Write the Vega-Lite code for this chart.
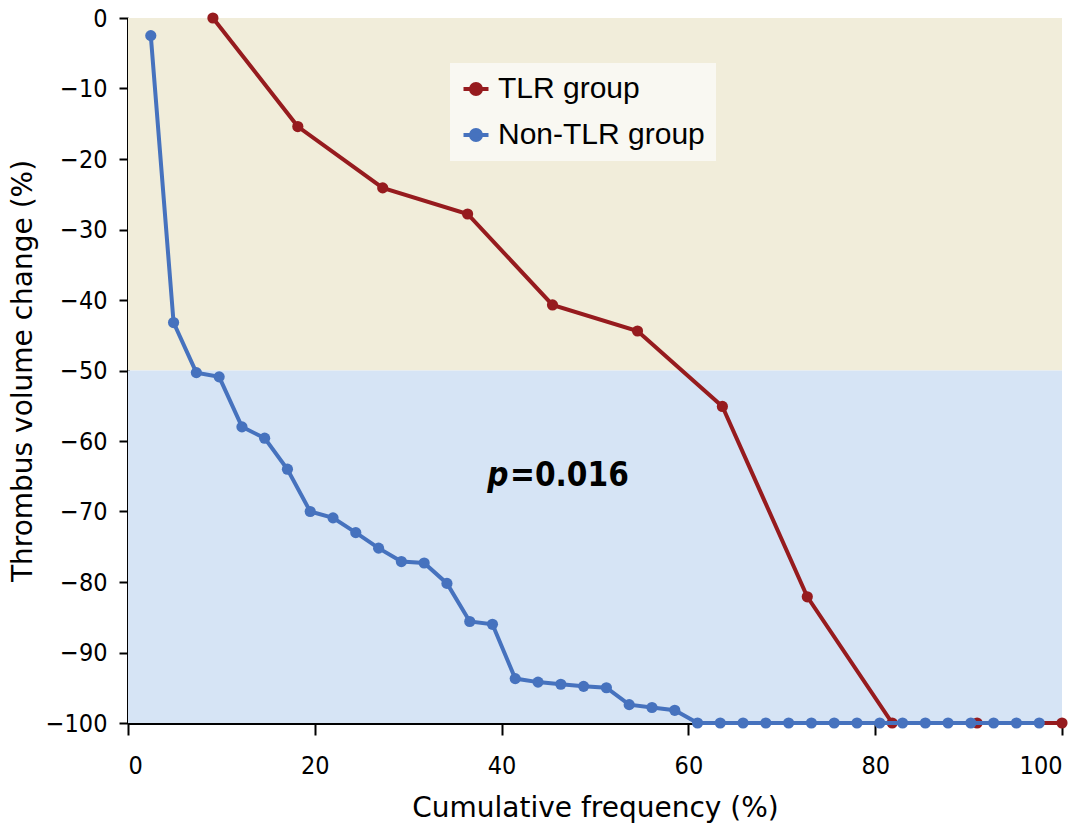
{
  "$schema": "https://vega.github.io/schema/vega-lite/v6.json",
  "width": 934,
  "height": 705,
  "autosize": {"type": "none"},
  "padding": {"left": 128, "top": 18, "right": 19, "bottom": 108},
  "background": "white",
  "config": {
    "view": {"stroke": null},
    "axis": {
      "grid": false,
      "domainColor": "black",
      "domainWidth": 3,
      "tickColor": "black",
      "tickWidth": 2,
      "labelColor": "black",
      "labelFont": "DejaVu Sans Condensed, Liberation Sans Narrow, sans-serif",
      "labelFontSize": 25,
      "titleFont": "DejaVu Sans",
      "titleFontSize": 28,
      "titleFontWeight": "normal",
      "titleColor": "black"
    }
  },
  "datasets": {
    "zones": [
      {"zone": "upper", "x0": 0, "x1": 100, "top": 0, "bottom": -50},
      {"zone": "lower", "x0": 0, "x1": 100, "top": -50, "bottom": -100}
    ],
    "curves": [
      {"group": "TLR group", "freq": 9.09, "change": 0},
      {"group": "TLR group", "freq": 18.18, "change": -15.4},
      {"group": "TLR group", "freq": 27.27, "change": -24.1},
      {"group": "TLR group", "freq": 36.36, "change": -27.8},
      {"group": "TLR group", "freq": 45.45, "change": -40.7},
      {"group": "TLR group", "freq": 54.55, "change": -44.4},
      {"group": "TLR group", "freq": 63.64, "change": -55.1},
      {"group": "TLR group", "freq": 72.73, "change": -82.1},
      {"group": "TLR group", "freq": 81.82, "change": -100},
      {"group": "TLR group", "freq": 90.91, "change": -100},
      {"group": "TLR group", "freq": 100, "change": -100},
      {"group": "Non-TLR group", "freq": 2.44, "change": -2.5},
      {"group": "Non-TLR group", "freq": 4.88, "change": -43.2},
      {"group": "Non-TLR group", "freq": 7.32, "change": -50.3},
      {"group": "Non-TLR group", "freq": 9.76, "change": -50.9},
      {"group": "Non-TLR group", "freq": 12.2, "change": -58.0},
      {"group": "Non-TLR group", "freq": 14.63, "change": -59.6},
      {"group": "Non-TLR group", "freq": 17.07, "change": -64.0},
      {"group": "Non-TLR group", "freq": 19.51, "change": -70.0},
      {"group": "Non-TLR group", "freq": 21.95, "change": -70.9},
      {"group": "Non-TLR group", "freq": 24.39, "change": -73.0},
      {"group": "Non-TLR group", "freq": 26.83, "change": -75.2},
      {"group": "Non-TLR group", "freq": 29.27, "change": -77.1},
      {"group": "Non-TLR group", "freq": 31.71, "change": -77.3},
      {"group": "Non-TLR group", "freq": 34.15, "change": -80.2},
      {"group": "Non-TLR group", "freq": 36.59, "change": -85.6},
      {"group": "Non-TLR group", "freq": 39.02, "change": -86.0},
      {"group": "Non-TLR group", "freq": 41.46, "change": -93.7},
      {"group": "Non-TLR group", "freq": 43.9, "change": -94.2},
      {"group": "Non-TLR group", "freq": 46.34, "change": -94.5},
      {"group": "Non-TLR group", "freq": 48.78, "change": -94.8},
      {"group": "Non-TLR group", "freq": 51.22, "change": -95.0},
      {"group": "Non-TLR group", "freq": 53.66, "change": -97.4},
      {"group": "Non-TLR group", "freq": 56.1, "change": -97.8},
      {"group": "Non-TLR group", "freq": 58.54, "change": -98.2},
      {"group": "Non-TLR group", "freq": 60.98, "change": -100},
      {"group": "Non-TLR group", "freq": 63.41, "change": -100},
      {"group": "Non-TLR group", "freq": 65.85, "change": -100},
      {"group": "Non-TLR group", "freq": 68.29, "change": -100},
      {"group": "Non-TLR group", "freq": 70.73, "change": -100},
      {"group": "Non-TLR group", "freq": 73.17, "change": -100},
      {"group": "Non-TLR group", "freq": 75.61, "change": -100},
      {"group": "Non-TLR group", "freq": 78.05, "change": -100},
      {"group": "Non-TLR group", "freq": 80.49, "change": -100},
      {"group": "Non-TLR group", "freq": 82.93, "change": -100},
      {"group": "Non-TLR group", "freq": 85.37, "change": -100},
      {"group": "Non-TLR group", "freq": 87.8, "change": -100},
      {"group": "Non-TLR group", "freq": 90.24, "change": -100},
      {"group": "Non-TLR group", "freq": 92.68, "change": -100},
      {"group": "Non-TLR group", "freq": 95.12, "change": -100},
      {"group": "Non-TLR group", "freq": 97.56, "change": -100}
    ],
    "notes": [
      {"part": "p", "freq": 40.75, "change": -66.4},
      {"part": "=0.016", "freq": 40.9, "change": -66.4}
    ]
  },
  "encoding": {
    "x": {
      "field": "freq",
      "type": "quantitative",
      "scale": {"domain": [0, 100], "nice": false},
      "axis": {
        "title": "Cumulative frequency (%)",
        "values": [0, 20, 40, 60, 80, 100],
        "tickSize": 12,
        "labelPadding": 18,
        "titlePadding": 16
      }
    },
    "y": {
      "field": "change",
      "type": "quantitative",
      "scale": {"domain": [-100, 0], "nice": false},
      "axis": {
        "title": "Thrombus volume change (%)",
        "values": [-100, -90, -80, -70, -60, -50, -40, -30, -20, -10, 0],
        "tickSize": 9,
        "labelPadding": 12,
        "titlePadding": 8
      }
    }
  },
  "layer": [
    {
      "data": {"name": "zones"},
      "mark": {"type": "rect"},
      "encoding": {
        "x": {"field": "x0", "type": "quantitative"},
        "x2": {"field": "x1"},
        "y": {"field": "top", "type": "quantitative"},
        "y2": {"field": "bottom"},
        "fill": {
          "field": "zone",
          "type": "nominal",
          "scale": {"domain": ["upper", "lower"], "range": ["#F1EDDA", "#D6E4F5"]},
          "legend": null
        }
      }
    },
    {
      "data": {"name": "curves"},
      "transform": [{"filter": "datum.group === 'TLR group'"}],
      "mark": {"type": "line", "strokeWidth": 4},
      "encoding": {
        "color": {
          "field": "group",
          "type": "nominal",
          "scale": {"domain": ["TLR group", "Non-TLR group"], "range": ["#961B1E", "#4672BE"]},
          "legend": {
            "title": null,
            "orient": "none",
            "legendX": 322,
            "legendY": 45,
            "fillColor": "#F9F8F2",
            "padding": 11,
            "rowPadding": 16,
            "labelFont": "Liberation Sans",
            "labelFontSize": 30,
            "labelLimit": 400,
            "labelColor": "black",
            "labelOffset": 7,
            "symbolType": "M-1,0L1,0M-0.4,0A0.4,0.4,0,1,0,0.4,0A0.4,0.4,0,1,0,-0.4,0Z",
            "symbolSize": 625,
            "symbolStrokeWidth": 4,
            "encode": {
              "symbols": {
                "update": {
                  "fill": {"scale": "color", "field": "value"},
                  "stroke": {"scale": "color", "field": "value"},
                  "opacity": {"value": 1}
                }
              }
            }
          }
        }
      }
    },
    {
      "data": {"name": "curves"},
      "transform": [{"filter": "datum.group === 'TLR group'"}],
      "mark": {"type": "point", "filled": true, "size": 125, "opacity": 1},
      "encoding": {
        "color": {"field": "group", "type": "nominal"}
      }
    },
    {
      "data": {"name": "curves"},
      "transform": [{"filter": "datum.group === 'Non-TLR group'"}],
      "mark": {"type": "line", "strokeWidth": 4},
      "encoding": {
        "color": {"field": "group", "type": "nominal"}
      }
    },
    {
      "data": {"name": "curves"},
      "transform": [{"filter": "datum.group === 'Non-TLR group'"}],
      "mark": {"type": "point", "filled": true, "size": 125, "opacity": 1},
      "encoding": {
        "color": {"field": "group", "type": "nominal"}
      }
    },
    {
      "data": {"name": "notes"},
      "transform": [{"filter": "datum.part === 'p'"}],
      "mark": {"type": "text", "align": "right", "baseline": "alphabetic", "font": "DejaVu Sans Condensed, Liberation Sans Narrow, sans-serif", "fontSize": 33, "fontWeight": "bold", "fontStyle": "italic", "color": "black"},
      "encoding": {
        "text": {"field": "part"}
      }
    },
    {
      "data": {"name": "notes"},
      "transform": [{"filter": "datum.part !== 'p'"}],
      "mark": {"type": "text", "align": "left", "baseline": "alphabetic", "font": "DejaVu Sans Condensed, Liberation Sans Narrow, sans-serif", "fontSize": 33, "fontWeight": "bold", "color": "black"},
      "encoding": {
        "text": {"field": "part"}
      }
    }
  ]
}
